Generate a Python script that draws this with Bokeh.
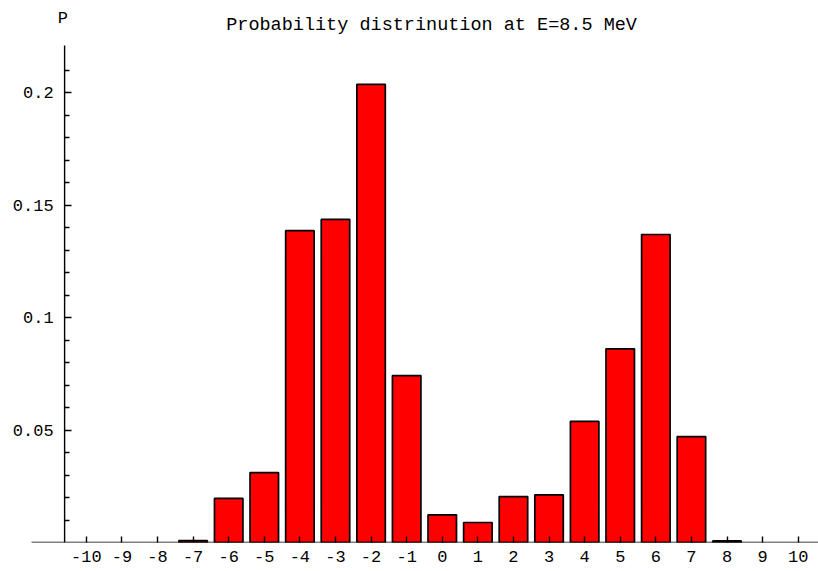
from bokeh.plotting import figure
from bokeh.models import FixedTicker, Range1d, Label, ColumnDataSource
from bokeh.embed import file_html
from bokeh.resources import INLINE

# Probability of each state n at E = 8.5 MeV
n_values = list(range(-10, 11))
probabilities = [0.0, 0.0, 0.0, 0.0008, 0.0196, 0.0311, 0.1386, 0.1436, 0.2036,
                 0.0742, 0.0123, 0.0089, 0.0204, 0.0212, 0.0538, 0.0861, 0.1369,
                 0.0471, 0.0007, 0.0, 0.0]

x_ticks = list(range(-10, 11))
x_tick_labels = [str(t) for t in x_ticks]
y_major_ticks = [0.05, 0.1, 0.15, 0.2]
y_tick_labels = ["0.05", "0.1", "0.15", "0.2"]
y_minor_ticks = [0.01, 0.02, 0.03, 0.04, 0.06, 0.07, 0.08, 0.09, 0.11, 0.12,
                 0.13, 0.14, 0.16, 0.17, 0.18, 0.19, 0.21]

title_text = "Probability distrinution at E=8.5 MeV"
y_name = "P"

FONT = "Liberation Mono"
FONT_SIZE = "17px"
TITLE_SIZE = "18.5px"

# axis geometry in data units
X_AXIS_START, X_AXIS_END = -11.54, 10.57
Y_AXIS_AT = -10.61
Y_AXIS_TOP = 0.2209

# only non-zero bars are drawn
visible = [(n, v) for n, v in zip(n_values, probabilities) if v > 0]
src = ColumnDataSource(dict(n=[a for a, _ in visible], p=[b for _, b in visible]))

p = figure(width=818, height=571,
           x_range=Range1d(-12.411, X_AXIS_END), y_range=Range1d(0, 0.2409),
           output_backend="svg", toolbar_location=None,
           min_border_left=0, min_border_right=0,
           min_border_top=0, min_border_bottom=29,
           outline_line_color=None,
           background_fill_color="white", border_fill_color="white")
p.grid.visible = False

p.vbar(x="n", top="p", bottom=0, width=0.8, source=src,
       fill_color="#ff0000", line_color="black", line_width=1.7)

# axis lines
p.segment(x0=[X_AXIS_START, Y_AXIS_AT], y0=[0, 0],
          x1=[X_AXIS_END, Y_AXIS_AT], y1=[0, Y_AXIS_TOP],
          line_color="black", line_width=1.4)

# horizontal axis
xa = p.xaxis[0]
xa.ticker = FixedTicker(ticks=x_ticks)
xa.major_label_overrides = {t: lbl for t, lbl in zip(x_ticks, x_tick_labels)}
xa.major_tick_in = 6
xa.major_tick_out = 0
xa.minor_tick_in = 0
xa.minor_tick_out = 0
xa.axis_line_color = None
xa.major_tick_line_color = "black"
xa.major_tick_line_width = 1.4
xa.major_label_text_font = FONT
xa.major_label_text_font_size = FONT_SIZE
xa.major_label_text_color = "black"
xa.major_label_standoff = 8

# vertical axis, placed just left of the first bar
ya = p.yaxis[0]
ya.fixed_location = Y_AXIS_AT
ya.ticker = FixedTicker(ticks=y_major_ticks, minor_ticks=y_minor_ticks)
ya.major_label_overrides = {t: lbl for t, lbl in zip(y_major_ticks, y_tick_labels)}
ya.major_tick_in = 7
ya.major_tick_out = 0
ya.minor_tick_in = 5
ya.minor_tick_out = 0
ya.axis_line_color = None
ya.major_tick_line_color = "black"
ya.major_tick_line_width = 1.4
ya.minor_tick_line_color = "black"
ya.minor_tick_line_width = 1.4
ya.major_label_text_font = FONT
ya.major_label_text_font_size = FONT_SIZE
ya.major_label_text_color = "black"
ya.major_label_standoff = 11

p.add_layout(Label(x=Y_AXIS_AT - 0.05, y=0.2329, text=y_name,
                   text_align="center", text_baseline="middle",
                   text_font=FONT, text_font_size=FONT_SIZE, text_color="black"))
p.add_layout(Label(x=-0.30, y=0.2298, text=title_text,
                   text_align="center", text_baseline="middle",
                   text_font=FONT, text_font_size=TITLE_SIZE, text_color="black"))

open("out.html", "w").write(file_html(p, INLINE))
